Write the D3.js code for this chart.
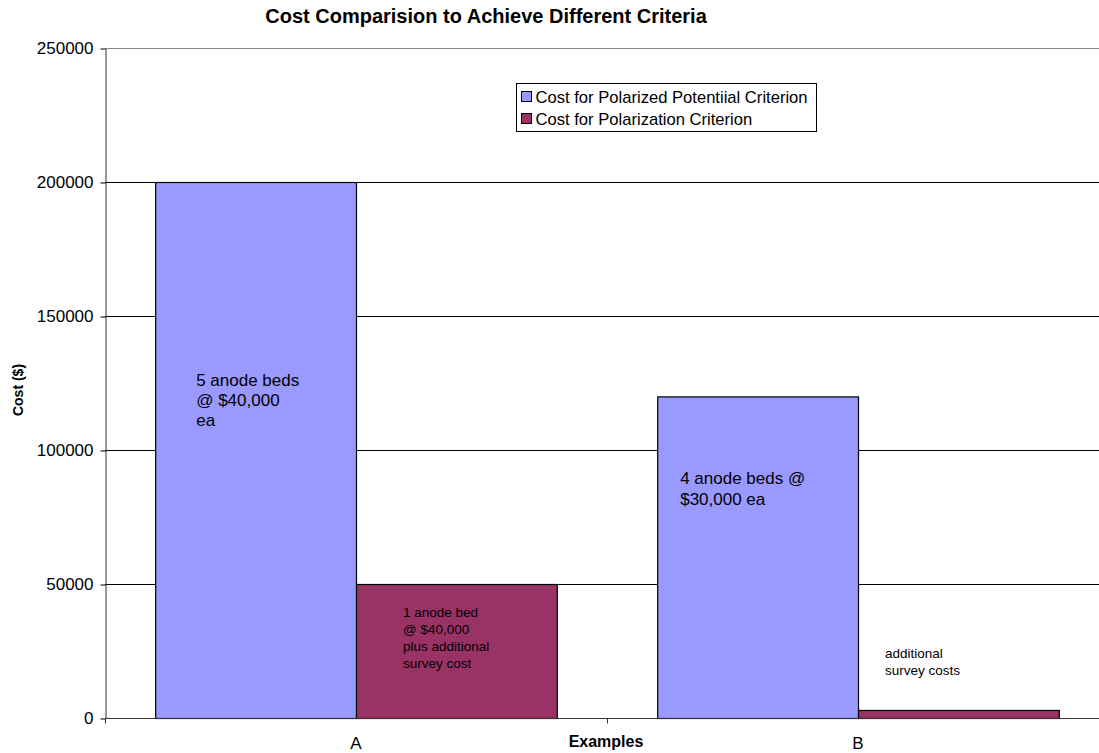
<!DOCTYPE html>
<html>
<head>
<meta charset="utf-8">
<script src="https://cdn.jsdelivr.net/npm/d3@7"></script>
<style>
  html, body { margin: 0; padding: 0; background: #fff; }
  svg { display: block; font-family: "Liberation Sans", Arial, sans-serif; }
</style>
</head>
<body>
<svg id="chart" width="1099" height="753"></svg>
<script>
// Chart data
const categories = ["A", "B"];
const seriesNames = ["Cost for Polarized Potentiial Criterion", "Cost for Polarization Criterion"];
const potentialCost = [200000, 120000];
const polarizationCost = [50000, 3000];
const yTicks = [0, 50000, 100000, 150000, 200000, 250000];
const notes = [
  { cat: "A", series: 0, lines: ["5 anode beds", "@ $40,000", "ea"] },
  { cat: "A", series: 1, lines: ["1 anode bed", "@ $40,000", "plus additional", "survey cost"] },
  { cat: "B", series: 0, lines: ["4 anode beds @", "$30,000 ea"] },
  { cat: "B", series: 1, lines: ["additional", "survey costs"] }
];

const colors = ["#9999FF", "#993366"];
const svg = d3.select("#chart");
const x0 = 105, x1 = 1109, yTop = 48, yBot = 718;

const x = d3.scaleBand().domain(categories).range([x0, x1]).paddingInner(0).paddingOuter(0);
const xs = d3.scaleBand().domain([0, 1]).range([0, x.bandwidth()]).paddingInner(0).paddingOuter(0.25);
const y = d3.scaleLinear().domain([0, 250000]).range([yBot, yTop]);

// Gridlines
svg.append("g").selectAll("line").data(yTicks.filter(d => d > 0)).join("line")
  .attr("x1", x0).attr("x2", x1)
  .attr("y1", d => y(d) + 0.5).attr("y2", d => y(d) + 0.5)
  .attr("stroke", d => d === 250000 ? "#888" : "#000").attr("stroke-width", 1);

// Bars
const rows = categories.map((c, i) => ({ cat: c, vals: [potentialCost[i], polarizationCost[i]] }));
const g = svg.append("g");
rows.forEach(r => {
  r.vals.forEach((v, s) => {
    g.append("rect")
      .attr("x", x(r.cat) + xs(s) + 0.5)
      .attr("y", y(v) + 0.5)
      .attr("width", xs.bandwidth())
      .attr("height", y(0) - y(v))
      .attr("fill", colors[s])
      .attr("stroke", "#000").attr("stroke-width", 1.2);
  });
});

// Y axis
const yAxis = d3.axisLeft(y).tickValues(yTicks).tickSize(5).tickSizeOuter(0).tickFormat(d3.format("d"));
const ya = svg.append("g").attr("transform", `translate(${x0 + 0.5},0.5)`).call(yAxis);
ya.select(".domain").attr("stroke", "#333");
ya.selectAll(".tick line").attr("stroke", "#000");
ya.selectAll(".tick text").attr("font-size", 17).attr("fill", "#000").attr("x", -12)
  .attr("font-family", "Liberation Sans, Arial, sans-serif");

// X axis
const xa = svg.append("g").attr("transform", `translate(0,${yBot + 0.5})`);
xa.append("line").attr("x1", x0).attr("x2", x1).attr("stroke", "#333");
xa.selectAll("line.tk").data([x0, x(categories[1]), x1]).join("line").attr("class", "tk")
  .attr("x1", d => d + 0.5).attr("x2", d => d + 0.5).attr("y1", 0).attr("y2", 5).attr("stroke", "#333");
xa.selectAll("text").data(categories).join("text")
  .attr("x", d => x(d) + x.bandwidth() / 2).attr("y", 30)
  .attr("text-anchor", "middle").attr("font-size", 17).text(d => d);

// Annotations inside the chart
const notePos = {
  "A0": { dx: 41, y: 386, fs: 17, lh: 20 },
  "A1": { dx: 47, y: 617, fs: 13.5, lh: 17 },
  "B0": { dx: 23, y: 484, fs: 17, lh: 21 },
  "B1": { dx: 27, y: 658, fs: 13.5, lh: 17 }
};
notes.forEach(n => {
  const p = notePos[n.cat + n.series];
  const tx = x(n.cat) + xs(n.series) + p.dx;
  const t = svg.append("text").attr("x", tx).attr("y", p.y).attr("font-size", p.fs).attr("fill", "#000");
  n.lines.forEach((l, i) => t.append("tspan").attr("x", tx).attr("y", p.y + i * p.lh).text(l));
});

// Title and axis titles
svg.append("text").attr("x", 486).attr("y", 23).attr("text-anchor", "middle")
  .attr("font-size", 20).attr("font-weight", "bold").text("Cost Comparision to Achieve Different Criteria");
svg.append("text").attr("x", 606).attr("y", 747).attr("text-anchor", "middle")
  .attr("font-size", 16).attr("font-weight", "bold").text("Examples");
svg.append("text").attr("transform", "translate(23,390) rotate(-90)").attr("text-anchor", "middle")
  .attr("font-size", 14).attr("font-weight", "bold").text("Cost ($)");

// Legend
const lg = svg.append("g").attr("transform", "translate(516.5,83.5)");
lg.append("rect").attr("width", 300).attr("height", 48).attr("fill", "#fff").attr("stroke", "#000");
seriesNames.forEach((s, i) => {
  const yy = 13 + i * 22;
  lg.append("rect").attr("x", 5).attr("y", yy - 5).attr("width", 10).attr("height", 10)
    .attr("fill", colors[i]).attr("stroke", "#000");
  lg.append("text").attr("x", 19).attr("y", yy + 6).attr("font-size", 16.6).text(s);
});
</script>
</body>
</html>
